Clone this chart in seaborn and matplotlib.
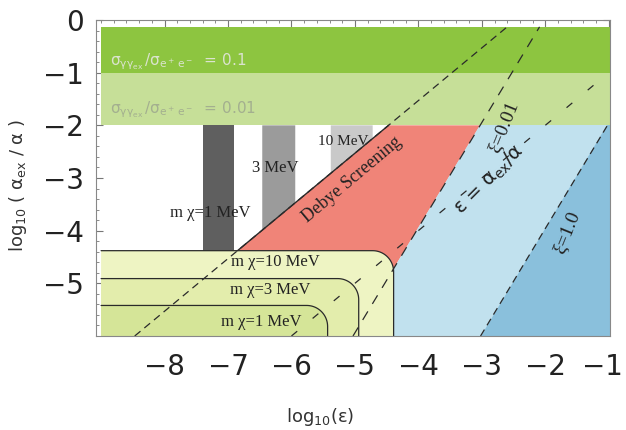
import numpy as np
import matplotlib
matplotlib.use("Agg")
import matplotlib.pyplot as plt
import matplotlib.transforms as mtransforms
from matplotlib.ticker import AutoMinorLocator
import seaborn as sns

# Set style for plot
sns.set_style("ticks")
plt.rcParams['font.family'] = ['DejaVu Sans']
plt.rcParams['mathtext.default'] = 'regular'

# --- values (log10 units) ---
x_ticks = [-8, -7, -6, -5, -4, -3, -2, -1]
y_ticks = [-5, -4, -3, -2, -1, 0]

# sigma ratio bands
band_ratio = ["0.1", "0.01"]
band_low = [-1.0, -2.0]
band_high = [-0.13, -1.0]
band_colors = ["#8dc540", "#c6df98"]
band_text_colors = ["#dbe3cf", "#a3af8f"]

# annihilation bounds for m_chi (yellow)
mass_names = ["10 MeV", "3 MeV", "1 MeV"]
mass_top = [-4.38, -4.91, -5.42]
mass_right = [-4.39, -4.94, -5.43]
mass_colors = ["#eef4c3", "#e3edac", "#d5e598"]

# gray bars for m_chi = 1, 3, 10 MeV
bar_names = ["m χ=1 MeV", "3 MeV", "10 MeV"]
bar_left = [-7.40, -6.46, -5.38]
bar_right = [-6.90, -5.94, -4.72]
bar_colors = ["#5f5f5f", "#9b9b9b", "#c9c9c9"]

# straight lines, end points
debye_x = [-8.47, -2.60]
debye_y = [-6.0, -0.13]
xi001_x = [-5.03, -2.09]
xi001_y = [-6.0, -0.13]
xi1_x = [-3.02, -1.0]
xi1_y = [-6.0, -1.96]
eps_x = [-6.0, -1.0]
eps_y = [-6.0, -1.0]

x_left, x_right = -9.08, -0.98
y_bottom, y_top = -6.0, 0.0
fill_left = -9.0


def rounded_corner(right, top, x0=fill_left, bottom=y_bottom, rx=0.33, ry=0.40):
    t = np.linspace(np.pi / 2, 0, 24)
    xs = np.r_[x0, right - rx + rx * np.cos(t), right]
    ys = np.r_[top, top - ry + ry * np.sin(t), bottom]
    return xs, ys


def debye_at(x):
    return np.interp(x, debye_x, debye_y)


fig = plt.figure(figsize=(6.26, 4.30), dpi=100)
ax = fig.add_axes([96 / 626, 94 / 430, 514 / 626, 316 / 430])

# bands
for lo, hi, c in zip(band_low, band_high, band_colors):
    ax.fill_between([fill_left, x_right], lo, hi, color=c, lw=0)

# red Debye screening region
top_y = band_low[-1]
red_x = [np.interp(mass_top[0], debye_y, debye_x), np.interp(top_y, debye_y, debye_x),
         np.interp(top_y, xi001_y, xi001_x), np.interp(-4.95, xi001_y, xi001_x),
         np.interp(mass_top[0], debye_y, debye_x)]
red_y = [mass_top[0], top_y, top_y, -4.95, -4.95]
ax.fill(red_x, red_y, color="#f08478", lw=0)

# blue regions
xa = np.interp(top_y, xi001_y, xi001_x)
ax.fill([xa, x_right, x_right, xi001_x[0]], [top_y, top_y, y_bottom, y_bottom],
        color="#c1e1ee", lw=0)
xb = np.interp(top_y, xi1_y, xi1_x, right=xi1_x[-1] - 0.02)
ax.fill([xb, x_right, x_right, xi1_x[0]], [top_y, top_y, y_bottom, y_bottom],
        color="#8ac0dc", lw=0)

# gray bars, cut by the Debye line
for l, r, c in zip(bar_left, bar_right, bar_colors):
    bl = max(debye_at(l), mass_top[0])
    br = max(debye_at(r), mass_top[0])
    ax.fill([l, r, r, l], [top_y, top_y, br, bl], color=c, lw=0)

# yellow annihilation regions with rounded corners
for top, right, c in zip(mass_top, mass_right, mass_colors):
    xs, ys = rounded_corner(right, top)
    ax.fill(np.r_[xs, fill_left], np.r_[ys, y_bottom], color=c, lw=0)
    ax.plot(xs, ys, color="#2a2a2a", lw=0.9)

# Debye solid segment
ax.plot([np.interp(mass_top[0], debye_y, debye_x), np.interp(top_y, debye_y, debye_x)],
        [mass_top[0], top_y], color="#2a2a2a", lw=1.0)

# dashed lines
sns.lineplot(x=debye_x, y=debye_y, ax=ax, color="#2a2a2a", lw=0.9,
             linestyle=(0, (6, 4)))
sns.lineplot(x=xi001_x, y=xi001_y, ax=ax, color="#2a2a2a", lw=0.9,
             linestyle=(0, (8, 7)))
sns.lineplot(x=xi1_x, y=xi1_y, ax=ax, color="#2a2a2a", lw=0.9,
             linestyle=(0, (6, 4)))
sns.lineplot(x=eps_x, y=eps_y, ax=ax, color="#2a2a2a", lw=0.9,
             linestyle=(0, (6, 16)))

# band labels
band_text_y = [-0.80, -1.71]
for ty, ratio, tc in zip(band_text_y, band_ratio, band_text_colors):
    ax.text(-8.86, ty, r"$\sigma_{\gamma\gamma_{ex}}\,/\sigma_{e^+\,e^-}$  = " + ratio,
            color=tc, fontsize=11, ha="left", va="center")

serif = "Liberation Serif"
ax.text(-7.28, -3.66, bar_names[0], family=serif, fontsize=12, ha="center", va="center", color="#222")
ax.text(-6.26, -2.81, bar_names[1], family=serif, fontsize=12, ha="center", va="center", color="#222")
ax.text(-5.19, -2.30, bar_names[2], family=serif, fontsize=11, ha="center", va="center", color="#222")
ax.text(-5.04, -3.04, "Debye Screening", family=serif, fontsize=13, rotation=40,
        ha="center", va="center", color="#222")
ax.text(-2.66, -2.03, "ξ=0.01", family=serif, fontsize=14, rotation=68,
        ha="center", va="center", color="#222")
ax.text(-1.66, -4.04, "ξ=1.0", family=serif, fontsize=14, rotation=68,
        ha="center", va="center", color="#222")
ax.text(-2.88, -3.04, r"$\epsilon$ = $\alpha_{ex}/\alpha$", fontsize=14, rotation=45,
        ha="center", va="center", color="#222")

mass_text_x = [-6.26, -6.34, -6.47]
mass_text_y = [-4.59, -5.12, -5.73]
for tx, ty, name in zip(mass_text_x, mass_text_y, mass_names):
    ax.text(tx, ty, "m χ=" + name, family=serif, fontsize=12, ha="center", va="center", color="#222")

# axes
ax.set_xlim(x_left, x_right)
ax.set_ylim(y_bottom, y_top)
ax.set_xticks(x_ticks)
ax.set_yticks(y_ticks)
ax.set_xticklabels([f"\u2212{abs(v)}" for v in x_ticks])
ax.set_yticklabels([f"\u2212{abs(v)}" if v else "0" for v in y_ticks])
ax.xaxis.set_minor_locator(AutoMinorLocator(5))
ax.yaxis.set_minor_locator(AutoMinorLocator(5))
ax.tick_params(which="both", direction="in", top=True, right=True, colors="#777777",
               labelcolor="#222222")
ax.tick_params(which="major", length=5, width=0.8, labelsize=20)
ax.tick_params(which="minor", length=2.5, width=0.6)
ax.tick_params(axis="x", pad=12)
ax.tick_params(axis="y", pad=9)
for s in ax.spines.values():
    s.set_color("#888888")
    s.set_linewidth(0.8)

# keep the last x tick label inside the picture
last = ax.get_xticklabels()[-1]
last.set_transform(last.get_transform() + mtransforms.ScaledTranslation(-6 / 100, 0, fig.dpi_scale_trans))

ax.set_xlabel(r"log$_{10}$($\epsilon$)", fontsize=13, color="#333")
ax.set_ylabel(r"log$_{10}$ ( $\alpha_{ex}$ / $\alpha$ )", fontsize=13, color="#333")
ax.xaxis.set_label_coords(0.436, -0.222)
ax.yaxis.set_label_coords(-0.13, 0.475)

fig.savefig("out.png", dpi=100)
